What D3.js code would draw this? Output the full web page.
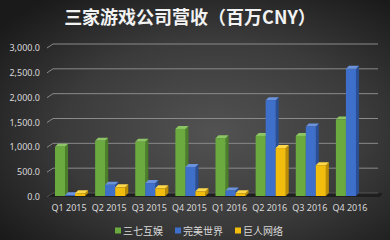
<!DOCTYPE html>
<html>
<head>
<meta charset="utf-8">
<script src="https://cdn.jsdelivr.net/npm/d3@7"></script>
<style>
  html, body { margin: 0; padding: 0; background: #2a2a2a; }
  svg { display: block; }
</style>
</head>
<body>
<svg id="chart" width="390" height="240"></svg>
<script>
// data
let quarters = ["Q1 2015", "Q2 2015", "Q3 2015", "Q4 2015", "Q1 2016", "Q2 2016", "Q3 2016", "Q4 2016"]
let sanqi = [990, 1110, 1090, 1350, 1165, 1210, 1210, 1540]
let wanmei = [15, 225, 260, 585, 110, 1930, 1400, 2560]
let juren = [55, 175, 155, 95, 55, 965, 620, 0]
let seriesNames = ["三七互娱", "完美世界", "巨人网络"]
let yTicks = [0, 500, 1000, 1500, 2000, 2500, 3000]

let series = [
    {name: seriesNames[0], values: sanqi, front: "#6aaa3f", side: "#4b7f2a", top: "#8cc563"},
    {name: seriesNames[1], values: wanmei, front: "#3e6fcb", side: "#2b4f96", top: "#6b93dd"},
    {name: seriesNames[2], values: juren, front: "#f2bd0d", side: "#b98c05", top: "#ffd84a"}
]

let W = 390, H = 240
let svg = d3.select('#chart')

// background
let defs = svg.append('defs')
let bg = defs.append('radialGradient')
    .attr('id', 'bg')
    .attr('cx', '55%').attr('cy', '55%').attr('r', '70%')
bg.append('stop').attr('offset', '0%').attr('stop-color', '#525252')
bg.append('stop').attr('offset', '55%').attr('stop-color', '#3b3b3b')
bg.append('stop').attr('offset', '100%').attr('stop-color', '#1a1a1a')

svg.append('rect')
    .attr('width', W).attr('height', H)
    .attr('fill', 'url(#bg)')

let depth = 3

let x = d3.scaleBand()
    .domain(quarters)
    .range([52, 373])
    .paddingInner(0.25)
    .paddingOuter(0.125)

let x1 = d3.scaleBand()
    .domain(seriesNames)
    .range([0, x.bandwidth()])

let y = d3.scaleLinear()
    .domain([0, 3000])
    .range([193, 44])

// floor
svg.append('polygon')
    .attr('points', `47,${y(0)+4} ${W-10},${y(0)+4} ${W-7},${y(0)} 52,${y(0)}`)
    .attr('fill', '#1f1f1f')

// gridlines with a little perspective kick at the left
let grid = svg.append('g')
yTicks.forEach((t) => {
    grid.append('path')
        .attr('d', `M47,${y(t)+4} L53,${y(t)} L378,${y(t)}`)
        .attr('fill', 'none')
        .attr('stroke', t == 0 ? '#555' : '#8a8a8a')
        .attr('stroke-width', 1)
})

// y tick labels
svg.append('g').selectAll('text')
    .data(yTicks)
    .enter()
    .append('text')
    .attr('x', 40)
    .attr('y', (d) => y(d) + 7)
    .attr('text-anchor', 'end')
    .attr('font-family', 'Noto Sans, sans-serif')
    .attr('font-size', 9)
    .attr('fill', '#d9d9d9')
    .text((d) => d3.format(',.1f')(d))

// bars
let groups = svg.append('g').selectAll('g.quarter')
    .data(quarters)
    .enter()
    .append('g')
    .attr('class', 'quarter')
    .attr('transform', (d) => `translate(${x(d)},0)`)

series.forEach((s) => {
    groups.each(function(q, i) {
        let v = s.values[i]
        if (v <= 0) { return }
        let g = d3.select(this)
        let bx = x1(s.name) - 2
        let bw = x1.bandwidth()
        let top = y(v) + depth
        let bottom = y(0) + depth
        // side face
        g.append('polygon')
            .attr('points', `${bx+bw},${top} ${bx+bw+depth},${top-depth} ${bx+bw+depth},${bottom-depth} ${bx+bw},${bottom}`)
            .attr('fill', s.side)
        // top face
        g.append('polygon')
            .attr('points', `${bx},${top} ${bx+depth},${top-depth} ${bx+bw+depth},${top-depth} ${bx+bw},${top}`)
            .attr('fill', s.top)
        // front face
        g.append('rect')
            .attr('x', bx)
            .attr('y', top)
            .attr('width', bw)
            .attr('height', bottom - top)
            .attr('fill', s.front)
    })
})

// x labels
svg.append('g').selectAll('text')
    .data(quarters)
    .enter()
    .append('text')
    .attr('x', (d) => x(d) + x.bandwidth() / 2 - 3)
    .attr('y', 211)
    .attr('text-anchor', 'middle')
    .attr('font-family', 'Noto Sans, sans-serif')
    .attr('font-size', 9)
    .attr('fill', '#d9d9d9')
    .text((d) => d)

// legend
let legendX = [115, 175, 235]
let legend = svg.append('g').selectAll('g.legend')
    .data(series)
    .enter()
    .append('g')
    .attr('class', 'legend')
    .attr('transform', (d, i) => `translate(${legendX[i]},232)`)

legend.append('rect')
    .attr('x', 0).attr('y', -4.5)
    .attr('width', 6).attr('height', 6)
    .attr('fill', (d) => d.front)

legend.append('text')
    .attr('x', 8)
    .attr('y', 3)
    .attr('font-family', 'Noto Sans CJK SC, sans-serif')
    .attr('font-size', 10)
    .attr('fill', '#d9d9d9')
    .text((d) => d.name)

// title
svg.append('text')
    .attr('x', 190)
    .attr('y', 24)
    .attr('text-anchor', 'middle')
    .attr('font-family', 'Noto Sans CJK SC, sans-serif')
    .attr('font-weight', 'bold')
    .attr('font-size', 18)
    .attr('fill', '#f2f2f2')
    .text('三家游戏公司营收（百万CNY）')
</script>
</body>
</html>
